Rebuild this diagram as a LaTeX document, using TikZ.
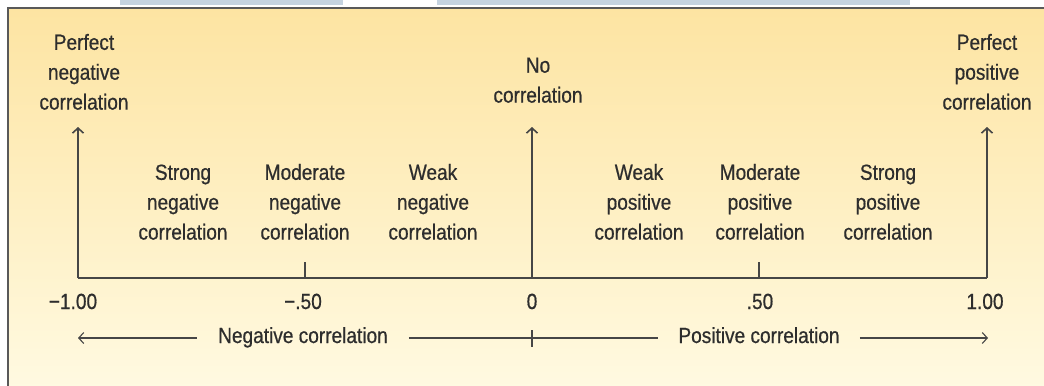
\documentclass[tikz,border=0pt]{standalone}
\usepackage{fontspec}
\setmainfont{Liberation Sans}[FakeStretch=0.87,FakeBold=0.6]
\usetikzlibrary{arrows.meta}
\definecolor{panelTop}{RGB}{253,228,162}
\definecolor{panelBot}{RGB}{255,250,226}
\definecolor{tabBlue}{RGB}{197,211,224}
\definecolor{inkGray}{RGB}{45,45,45}
\definecolor{lineGray}{RGB}{70,70,70}

\begin{document}
\begin{tikzpicture}[x=1bp,y=-1bp,
  lbl/.style={align=center,inner sep=0pt,text=inkGray,
    font=\fontsize{22}{30}\selectfont},
  axisline/.style={draw=lineGray,line width=1.6bp},
  sideline/.style={draw=lineGray,line width=1.1bp},
  barb/.tip={Straight Barb[length=5bp,width=11bp]}]
\useasboundingbox (0,0) rectangle (1044,385);

% panel
\fill[tabBlue] (120,0) rectangle (343,5);
\fill[tabBlue] (437,0) rectangle (910,5);
\fill[top color=panelTop,bottom color=panelBot] (8,8) rectangle (1050,392);
\draw[gray!70!black,line width=1.5bp] (1050,8) -- (8,8) -- (8,392);

% axis points
\coordinate (mneg) at (78,278);
\coordinate (mhalfneg) at (305,278);
\coordinate (mzero) at (532,278);
\coordinate (mhalfpos) at (759,278);
\coordinate (mpos) at (987,278);

% top labels
\node[lbl,anchor=south] (perfneg) at (84,110) {Perfect\\negative\\correlation};
\node[lbl,anchor=south] (nocorr) at (538,103) {No\\correlation};
\node[lbl,anchor=south] (perfpos) at (987,110) {Perfect\\positive\\correlation};

% strength labels
\node[lbl,anchor=south] (strongneg) at (183,240) {Strong\\negative\\correlation};
\node[lbl,anchor=south] (modneg) at (305,240) {Moderate\\negative\\correlation};
\node[lbl,anchor=south] (weakneg) at (433,240) {Weak\\negative\\correlation};
\node[lbl,anchor=south] (weakpos) at (639,240) {Weak\\positive\\correlation};
\node[lbl,anchor=south] (modpos) at (760,240) {Moderate\\positive\\correlation};
\node[lbl,anchor=south] (strongpos) at (888,240) {Strong\\positive\\correlation};

% axis
\draw[axisline] (mneg) -- (mpos);
\draw[axisline,-barb,shorten >=17bp] (mneg) -- (mneg |- perfneg.south);
\draw[axisline,-barb,shorten >=24bp] (mzero) -- (mzero |- nocorr.south);
\draw[axisline,-barb,shorten >=17bp] (mpos) -- (mpos |- perfpos.south);
\draw[axisline] (mhalfneg) -- ++(0,-16);
\draw[axisline] (mhalfpos) -- ++(0,-16);

% values
\node[lbl,anchor=base] (vneg) at (73,309) {−1.00};
\node[lbl,anchor=base] (vhalfneg) at (303,309) {−.50};
\node[lbl,anchor=base] (vzero) at (532,309) {0};
\node[lbl,anchor=base] (vhalfpos) at (760,309) {.50};
\node[lbl,anchor=base] (vpos) at (985,309) {1.00};

% sides
\coordinate (leftend) at (78,338);
\coordinate (midtick) at (532,338);
\coordinate (rightend) at (988,338);
\node[lbl,anchor=base,inner xsep=21bp] (negside) at (303,343) {Negative correlation};
\node[lbl,anchor=base,inner xsep=20bp] (posside) at (759,343) {Positive correlation};
\draw[sideline,barb-] (leftend) -- (negside.west |- leftend);
\draw[sideline] (negside.east |- midtick) -- (posside.west |- midtick);
\draw[sideline] (midtick) ++(0,-8) -- ++(0,17);
\draw[sideline,-barb] (posside.east |- rightend) -- (rightend);
\end{tikzpicture}
\end{document}
